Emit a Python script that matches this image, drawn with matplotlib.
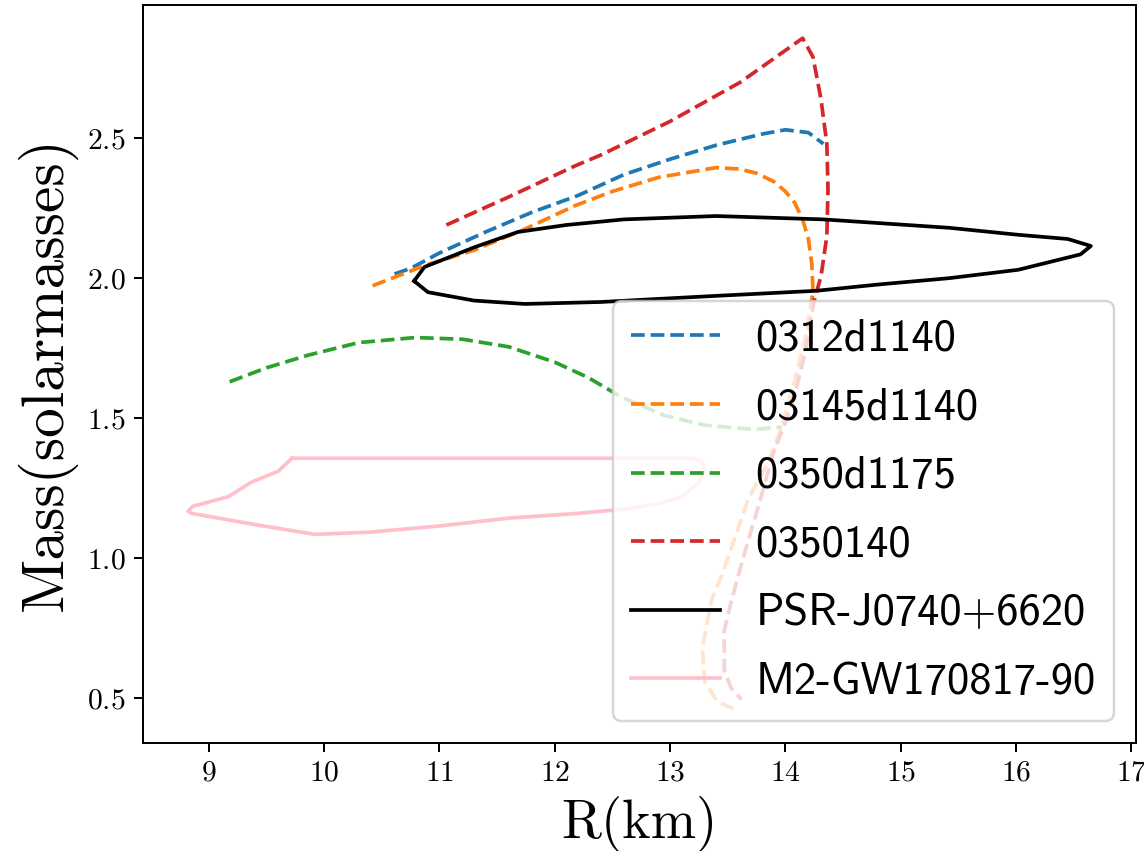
import matplotlib
matplotlib.use('Agg')
import matplotlib.pyplot as plt

plt.rcParams['axes.formatter.use_mathtext'] = True
plt.rcParams['font.family'] = ['cmr10', 'DejaVu Serif']

# mass-radius curves (R in km, M in solar masses)
R_0312 = [10.61, 10.75, 11.0, 11.4, 11.8, 12.2, 12.6, 13.0, 13.4, 13.8, 14.0, 14.2, 14.33]
M_0312 = [2.015, 2.035, 2.09, 2.165, 2.235, 2.295, 2.37, 2.425, 2.475, 2.515, 2.53, 2.52, 2.48]

R_03145 = [10.42, 10.87, 11.30, 11.74, 12.17, 12.5, 12.9, 13.4, 13.6, 13.75, 13.9, 14.0, 14.08,
           14.15, 14.2, 14.23, 14.24, 14.17, 14.06, 13.96, 13.85, 13.68, 13.45, 13.36, 13.28,
           13.30, 13.41, 13.56]
M_03145 = [1.973, 2.045, 2.10, 2.175, 2.258, 2.31, 2.36, 2.395, 2.39, 2.375, 2.345, 2.31, 2.27,
           2.21, 2.14, 2.05, 1.95, 1.78, 1.60, 1.46, 1.34, 1.213, 0.94, 0.85, 0.68,
           0.56, 0.488, 0.46]

R_0350d = [9.18, 9.5, 9.86, 10.3, 10.79, 11.2, 11.6, 12.0, 12.29, 12.58, 12.95, 13.3, 13.73, 13.97]
M_0350d = [1.63, 1.68, 1.725, 1.77, 1.788, 1.782, 1.755, 1.70, 1.645, 1.575, 1.51, 1.475, 1.46, 1.468]

R_0350 = [11.06, 11.6, 12.17, 12.4, 12.75, 13.0, 13.61, 14.15, 14.24, 14.31, 14.36, 14.37, 14.36,
          14.31, 14.25, 14.18, 14.08, 13.99, 13.9, 13.76, 13.65, 13.53, 13.47, 13.47, 13.53, 13.62]
M_0350 = [2.19, 2.29, 2.40, 2.44, 2.51, 2.56, 2.70, 2.857, 2.79, 2.637, 2.48, 2.316, 2.15,
          2.008, 1.92, 1.75, 1.58, 1.475, 1.38, 1.177, 1.023, 0.845, 0.74, 0.60, 0.536, 0.495]

# observational contours
R_psr = [10.78, 10.87, 11.30, 11.68, 12.1, 12.6, 13.4, 14.33, 15.42, 16.02, 16.45, 16.65,
         16.56, 16.02, 15.42, 14.82, 14.27, 13.31, 12.4, 11.74, 11.30, 10.90, 10.78]
M_psr = [1.99, 2.04, 2.11, 2.165, 2.19, 2.21, 2.222, 2.21, 2.18, 2.155, 2.14, 2.115,
         2.085, 2.03, 2.0, 1.978, 1.955, 1.935, 1.915, 1.908, 1.92, 1.95, 1.99]

R_gw = [9.72, 10.5, 11.5, 12.5, 13.2, 13.28, 13.3, 13.25, 13.1, 12.9, 12.6, 12.2, 11.6, 11.0,
        10.4, 9.92, 9.43, 8.85, 8.82, 8.86, 9.17, 9.37, 9.6, 9.72]
M_gw = [1.357, 1.357, 1.357, 1.357, 1.357, 1.345, 1.31, 1.27, 1.22, 1.195, 1.175, 1.16, 1.143, 1.115,
        1.093, 1.085, 1.118, 1.16, 1.168, 1.185, 1.22, 1.272, 1.31, 1.357]

fig = plt.figure(figsize=(1144 / 178, 851 / 178), dpi=178)
ax = fig.add_axes([0.125, 0.127, 0.868, 0.8675])

ax.plot(R_0312, M_0312, '--', color='tab:blue', label='0312d1140')
ax.plot(R_03145, M_03145, '--', color='tab:orange', label='03145d1140')
ax.plot(R_0350d, M_0350d, '--', color='tab:green', label='0350d1175')
ax.plot(R_0350, M_0350, '--', color='tab:red', label='0350140')
ax.plot(R_psr, M_psr, '-', color='black', label='PSR-J0740+6620')
ax.plot(R_gw, M_gw, '-', color='pink', label='M2-GW170817-90')

ax.set_xticks([9, 10, 11, 12, 13, 14, 15, 16, 17])
ax.set_yticks([0.5, 1.0, 1.5, 2.0, 2.5])
ax.tick_params(labelsize=12)
ax.set_xlabel('R(km)', fontsize=22)
ax.set_ylabel('Mass(solarmasses)', fontsize=24)

ax.legend(loc='lower right', prop={'family': 'cmss10', 'size': 18}, labelspacing=0.62)

fig.savefig('out.png', dpi=178)
